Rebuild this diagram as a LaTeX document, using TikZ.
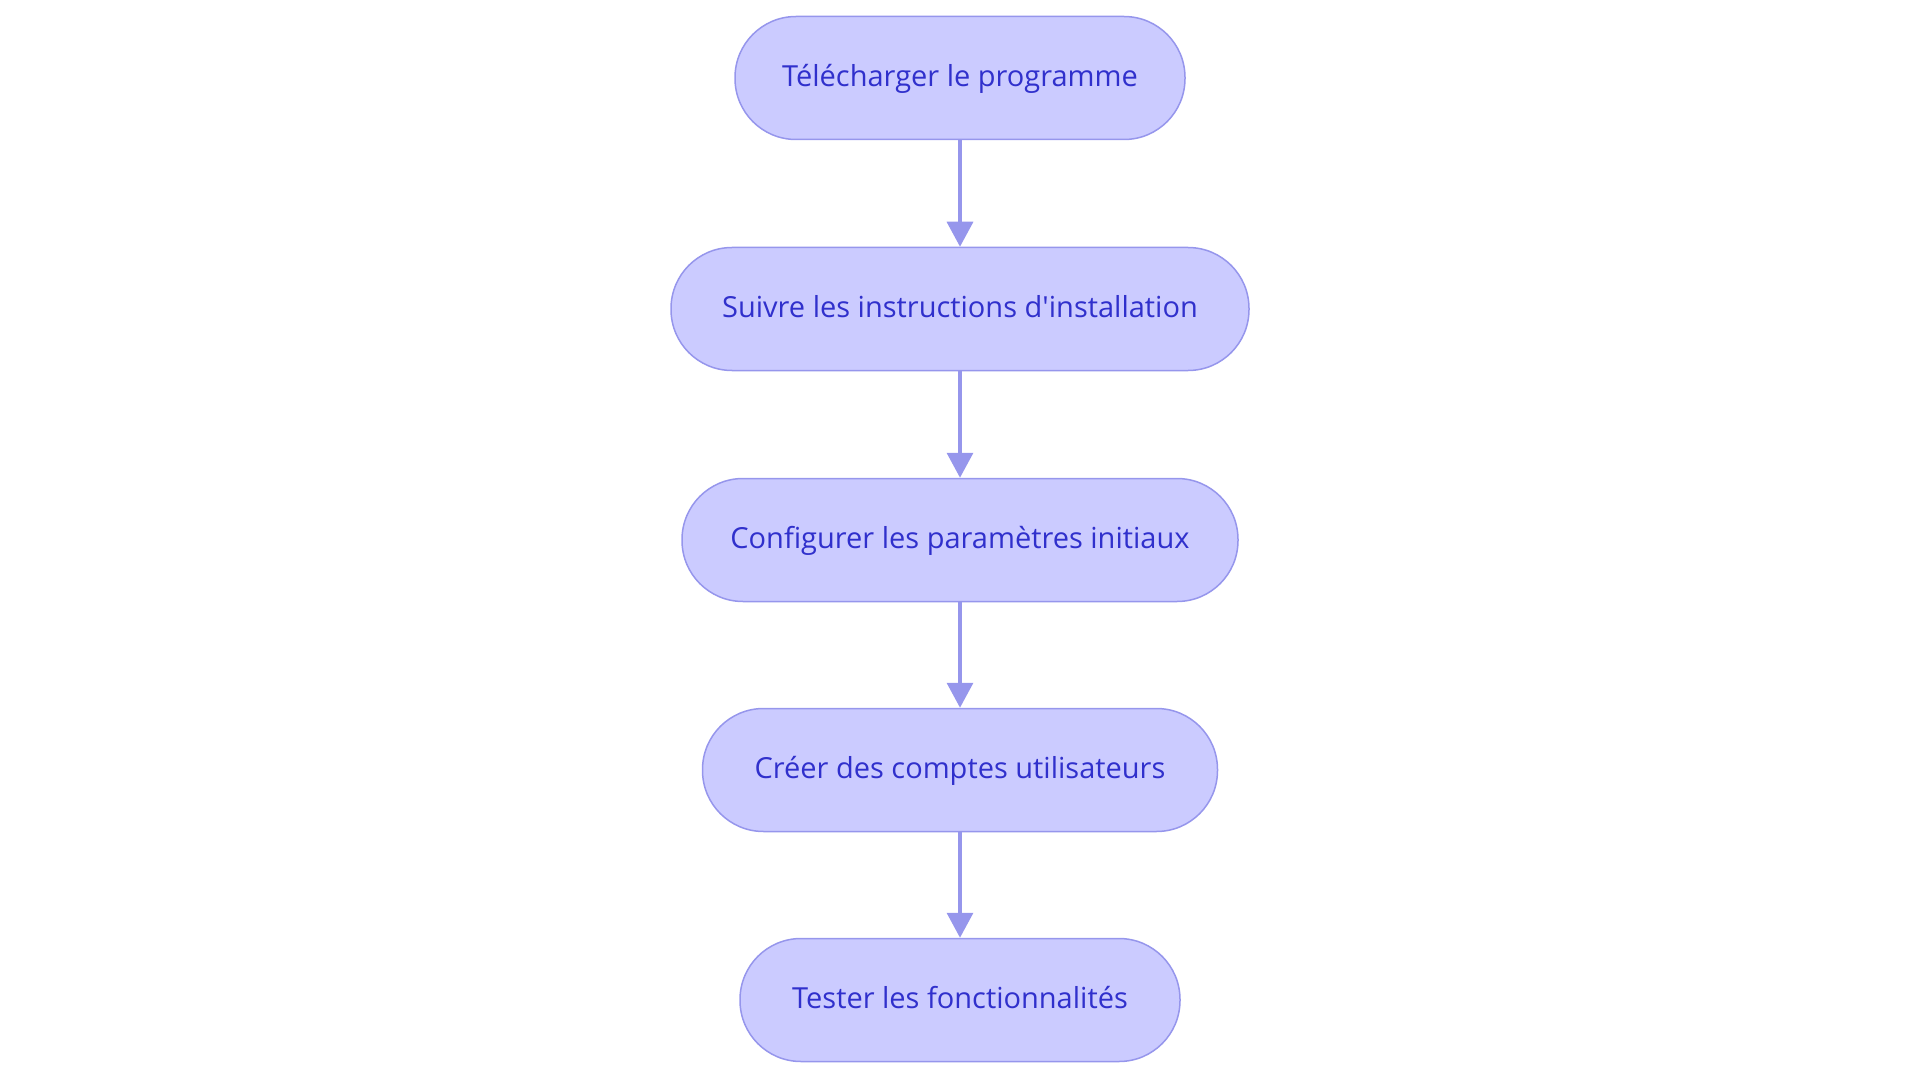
\documentclass[tikz,border=0pt]{standalone}
\usepackage{fontspec}
\newfontfamily\stepfont{Open Sans}
\usetikzlibrary{arrows.meta}
\definecolor{boxfill}{RGB}{203,203,255}
\definecolor{boxline}{RGB}{150,150,236}
\definecolor{boxtext}{RGB}{48,48,204}
\begin{document}
\begin{tikzpicture}[x = 1pt, y = -1pt,
                    stepbox/.style = {draw = boxline, fill = boxfill, line width = 1.5pt,
                                      rounded corners = 61pt, minimum height = 123pt,
                                      inner sep = 0pt, text = boxtext, text height = 21pt,
                                      text depth = 4pt,
                                      font = \stepfont\fontsize{29}{34}\selectfont},
                    link/.style = {draw = boxline, line width = 3.5pt,
                                   -{Triangle[length = 25pt, width = 26pt]}}]
      \useasboundingbox (0, 0) rectangle (1920, 1083);
      \node [stepbox, minimum width = 450pt] (s1) at (960, 78){Télécharger le programme};
      \node [stepbox, minimum width = 578pt] (s2) at (960, 309){Suivre les instructions d'installation};
      \node [stepbox, minimum width = 556pt] (s3) at (960, 540){Configurer les paramètres initiaux};
      \node [stepbox, minimum width = 515pt] (s4) at (960, 770){Créer des comptes utilisateurs};
      \node [stepbox, minimum width = 440pt] (s5) at (960, 1000){Tester les fonctionnalités};
      \draw [link] (s1) -- (s2);
      \draw [link] (s2) -- (s3);
      \draw [link] (s3) -- (s4);
      \draw [link] (s4) -- (s5);
    \end{tikzpicture}
\end{document}
